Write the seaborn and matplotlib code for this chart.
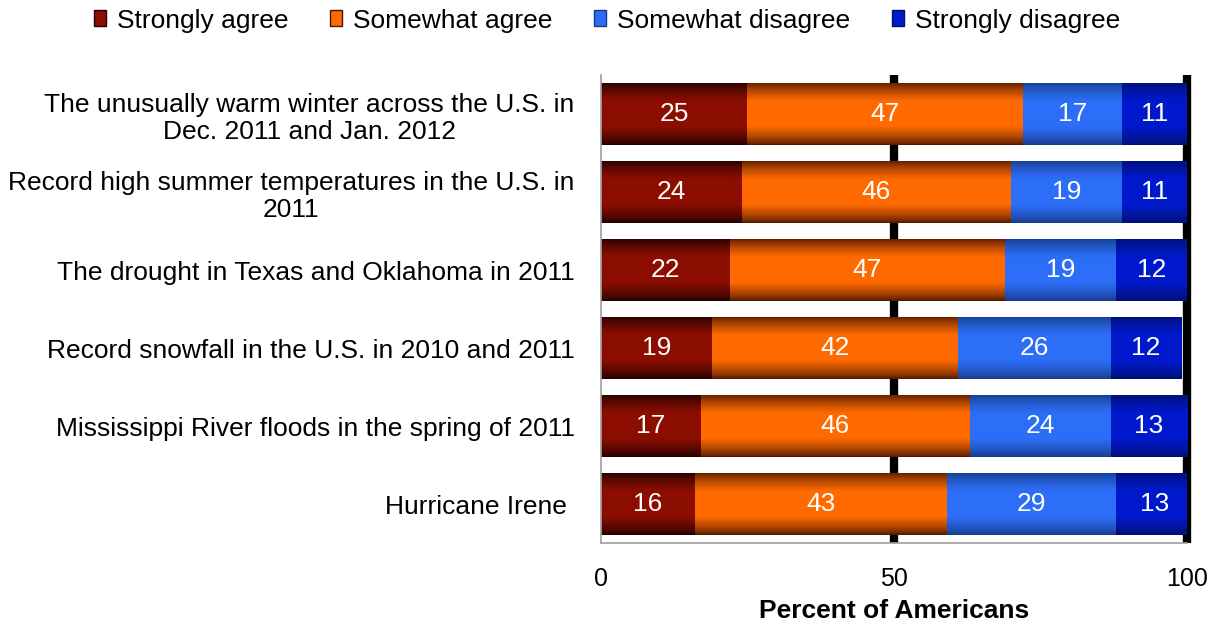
import numpy as np
import pandas as pd
import seaborn as sns
import matplotlib.pyplot as plt
from matplotlib.colors import to_rgb
from matplotlib.patches import Patch

# data
events = [
    "The unusually warm winter across the U.S. in\nDec. 2011 and Jan. 2012",
    "Record high summer temperatures in the U.S. in\n2011",
    "The drought in Texas and Oklahoma in 2011",
    "Record snowfall in the U.S. in 2010 and 2011",
    "Mississippi River floods in the spring of 2011",
    "Hurricane Irene ",
]
strongly_agree = [25, 24, 22, 19, 17, 16]
somewhat_agree = [47, 46, 47, 42, 46, 43]
somewhat_disagree = [17, 19, 19, 26, 24, 29]
strongly_disagree = [11, 11, 12, 12, 13, 13]

series_names = ["Strongly agree", "Somewhat agree", "Somewhat disagree", "Strongly disagree"]
series_values = [strongly_agree, somewhat_agree, somewhat_disagree, strongly_disagree]
# (edge colour, centre colour) for the shaded bars
series_colors = [
    ("#1e0000", "#8c0e00"),
    ("#4a1600", "#ff6a00"),
    ("#163a86", "#2c6ef8"),
    ("#00106e", "#0019cc"),
]
x_max = 100

sns.set_theme(style="white")
plt.rcParams["font.family"] = ["Liberation Sans", "DejaVu Sans"]
plt.rcParams["text.color"] = "black"
plt.rcParams["axes.labelcolor"] = "black"
plt.rcParams["xtick.color"] = "black"
plt.rcParams["ytick.color"] = "black"


def shade(edge, mid, n=120):
    """Vertical gradient: dark at top/bottom, bright in the middle."""
    t = np.linspace(0, 1, n)
    w = np.clip((1 - np.abs(2 * t - 1)) / 0.6, 0, 1) ** 0.7
    e = np.array(to_rgb(edge))
    m = np.array(to_rgb(mid))
    return (e[None, :] * (1 - w[:, None]) + m[None, :] * w[:, None])[:, None, :]


fig = plt.figure(figsize=(12.14, 6.25), dpi=100)
ax = fig.add_axes([0.495, 0.131, 0.4825, 0.749])

df = pd.DataFrame({"event": events})
cum = np.zeros(len(events))
for name, vals, (edge, mid) in zip(series_names, series_values, series_colors):
    left = cum.copy()
    cum = cum + np.array(vals)
    df["total"] = cum
    n_before = len(ax.patches)
    sns.barplot(data=df, x="total", y="event", orient="h", color=mid,
                width=0.8, ax=ax, zorder=2)
    new = ax.patches[n_before:]
    img = shade(edge, mid)
    for p, l, v in zip(new, left, vals):
        right = min(l + v, x_max)
        p.set_x(l)
        p.set_width(right - l)
        p.set_facecolor("none")
        p.set_edgecolor("none")
        y0, h = p.get_y(), p.get_height()
        im = ax.imshow(img, extent=[l, right, y0 + h, y0], aspect="auto",
                       zorder=2, interpolation="bilinear")
        im.set_clip_path(p)
        ax.text(l + v / 2, y0 + h / 2, str(v), color="white", fontsize=19,
                ha="center", va="center", zorder=3)

ax.set_xlim(0, x_max)
ax.set_ylim(len(events) - 0.5, -0.5)
ax.axvline(50, color="black", lw=6, zorder=1, solid_capstyle="butt")
ax.axvline(100, color="black", lw=6, zorder=1, clip_on=False, solid_capstyle="butt")
ax.set_xticks([0, 50, 100])
ax.tick_params(axis="x", length=0, pad=17, labelsize=18)
ax.tick_params(axis="y", length=0, pad=19, labelsize=19)
for lab in ax.get_yticklabels():
    lab.set_multialignment("center")
ax.set_ylabel("")
ax.set_xlabel("Percent of Americans", fontsize=19, fontweight="bold", labelpad=6)
for s in ["top", "right"]:
    ax.spines[s].set_visible(False)
for s in ["left", "bottom"]:
    ax.spines[s].set_color("#a0a0a0")
    ax.spines[s].set_linewidth(1.2)

handles = [Patch(facecolor=mid, edgecolor=edge) for edge, mid in series_colors]
fig.legend(handles, series_names, loc="upper center", bbox_to_anchor=(0.5, 1.024),
           ncol=4, frameon=False, fontsize=19, handlelength=0.45, handleheight=0.55,
           handletextpad=0.4, columnspacing=1.6)

fig.savefig("out.png", dpi=100)
